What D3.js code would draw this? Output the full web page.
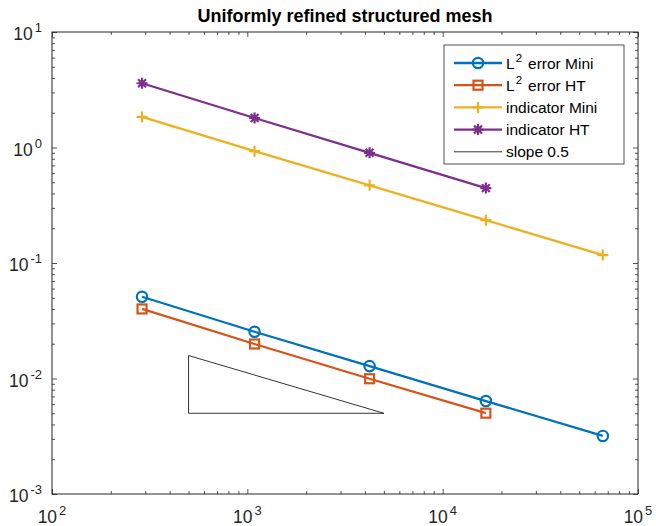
<!DOCTYPE html>
<html>
<head>
<meta charset="utf-8">
<script src="https://cdn.jsdelivr.net/npm/d3@7"></script>
<style>
  body { margin: 0; background: #fff; }
  svg { font-family: "Liberation Sans", Arial, sans-serif; }
</style>
</head>
<body>
<svg id="chart"></svg>
<script>
'use strict'

const width = 656,
      height = 526

// mesh sizes (dofs) and errors
const dofs = [289, 1089, 4225, 16641, 66049]
const l2Mini = [0.0510, 0.0254, 0.0128, 0.00638, 0.00318]
const l2HT = [0.0400, 0.0199, 0.00995, 0.00501]
const indMini = [1.84, 0.93, 0.47, 0.235, 0.117]
const indHT = [3.6, 1.8, 0.9, 0.445]
// reference triangle, slope 0.5
const slopeX = [500, 500, 5000, 500]
const slopeY = [0.005 * Math.sqrt(10), 0.005, 0.005, 0.005 * Math.sqrt(10)]

const xExp = [2, 3, 4, 5]
const yExp = [-3, -2, -1, 0, 1]

const series = [
  { name: ["L", "2", "error Mini"], x: dofs, y: l2Mini, color: "#0072BD", marker: "circle" },
  { name: ["L", "2", "error HT"], x: dofs.slice(0, 4), y: l2HT, color: "#D95319", marker: "square" },
  { name: ["indicator Mini"], x: dofs, y: indMini, color: "#EDB120", marker: "plus" },
  { name: ["indicator HT"], x: dofs.slice(0, 4), y: indHT, color: "#7E2F8E", marker: "star" }
]

const margin = { top: 32, right: 18, bottom: 32, left: 52 }
const x0 = margin.left, x1 = width - margin.right,
      y0 = margin.top, y1 = height - margin.bottom

const x = d3.scaleLog().domain([1e2, 1e5]).range([x0, x1])
const y = d3.scaleLog().domain([1e-3, 1e1]).range([y1, y0])

const svg = d3.select("#chart")
  .attr("width", width)
  .attr("height", height)

const axisColor = "#262626"

// minor tick values for log axes
function minors(lo, hi) {
  const out = []
  for (let e = lo; e < hi; e++)
    for (let k = 2; k <= 9; k++) out.push(k * Math.pow(10, e))
  return out
}
const xMajor = xExp.map(e => Math.pow(10, e))
const yMajor = yExp.map(e => Math.pow(10, e))
const xMinor = minors(2, 5)
const yMinor = minors(-3, 1)

const gAxes = svg.append("g").attr("class", "axes")

function addAxis(axisFn, scale, vals, size, transform) {
  gAxes.append("g")
    .attr("transform", transform)
    .call(axisFn(scale).tickValues(vals).tickSize(size).tickFormat(""))
    .call(g => g.select(".domain").remove())
    .call(g => g.selectAll("line").attr("stroke", axisColor).attr("stroke-width", 0.8))
}
// inward ticks on all four sides
addAxis(d3.axisBottom, x, xMajor, -5, `translate(0,${y1})`)
addAxis(d3.axisBottom, x, xMinor, -3, `translate(0,${y1})`)
addAxis(d3.axisTop, x, xMajor, -5, `translate(0,${y0})`)
addAxis(d3.axisTop, x, xMinor, -3, `translate(0,${y0})`)
addAxis(d3.axisLeft, y, yMajor, -5, `translate(${x0},0)`)
addAxis(d3.axisLeft, y, yMinor, -3, `translate(${x0},0)`)
addAxis(d3.axisRight, y, yMajor, -5, `translate(${x1},0)`)
addAxis(d3.axisRight, y, yMinor, -3, `translate(${x1},0)`)

gAxes.append("rect")
  .attr("x", x0).attr("y", y0)
  .attr("width", x1 - x0).attr("height", y1 - y0)
  .attr("fill", "none")
  .attr("stroke", axisColor)
  .attr("stroke-width", 1)

// tick labels, 10 with superscript exponent
gAxes.selectAll(".xlabel")
  .data(xExp)
  .enter().append("text")
    .attr("class", "xlabel")
    .attr("x", d => x(Math.pow(10, d)))
    .attr("y", y1 + 29)
    .attr("text-anchor", "middle")
    .attr("fill", axisColor)
    .style("font-size", "17.5px")
    .each(function(d) {
      const t = d3.select(this)
      t.append("tspan").text("10")
      t.append("tspan").attr("dy", -8).attr("dx", 2).style("font-size", "13px").text(d)
    })

gAxes.selectAll(".ylabel")
  .data(yExp)
  .enter().append("text")
    .attr("class", "ylabel")
    .attr("x", x0 - 10)
    .attr("y", d => y(Math.pow(10, d)) + 8)
    .attr("text-anchor", "end")
    .attr("fill", axisColor)
    .style("font-size", "17.5px")
    .each(function(d) {
      const t = d3.select(this)
      t.append("tspan").text("10")
      t.append("tspan").attr("dy", -8).attr("dx", 2).style("font-size", "13px").text(d < 0 ? "-" + (-d) : d)
    })

// title
svg.append("text")
  .attr("x", (x0 + x1) / 2)
  .attr("y", 22)
  .attr("text-anchor", "middle")
  .style("font-size", "18px")
  .style("font-weight", "bold")
  .attr("fill", "#000")
  .text("Uniformly refined structured mesh")

// markers
function drawMarker(g, type, color) {
  if (type === "circle") {
    g.append("circle").attr("r", 5.2).attr("fill", "none")
      .attr("stroke", color).attr("stroke-width", 2.2)
  } else if (type === "square") {
    g.append("rect").attr("x", -4.5).attr("y", -4.5).attr("width", 9).attr("height", 9)
      .attr("fill", "none").attr("stroke", color).attr("stroke-width", 2.2)
  } else if (type === "plus") {
    g.append("path").attr("d", "M-5.5,0H5.5M0,-5.5V5.5")
      .attr("stroke", color).attr("stroke-width", 2.2)
  } else if (type === "star") {
    const r = 5.5, q = r * 0.72
    g.append("path").attr("d", `M${-r},0H${r}M0,${-r}V${r}M${-q},${-q}L${q},${q}M${-q},${q}L${q},${-q}`)
      .attr("stroke", color).attr("stroke-width", 2.2)
  }
}

const line = d3.line()
  .x(d => x(d[0]))
  .y(d => y(d[1]))

const gData = svg.append("g").attr("class", "data")

series.forEach(s => {
  const pts = s.x.map((v, i) => [v, s.y[i]])
  gData.append("path")
    .datum(pts)
    .attr("d", line)
    .attr("fill", "none")
    .attr("stroke", s.color)
    .attr("stroke-width", 2.3)
  gData.selectAll(null)
    .data(pts)
    .enter().append("g")
      .attr("transform", d => `translate(${x(d[0])},${y(d[1])})`)
      .each(function() { drawMarker(d3.select(this), s.marker, s.color) })
})

// slope triangle
gData.append("path")
  .datum(slopeX.map((v, i) => [v, slopeY[i]]))
  .attr("d", line)
  .attr("fill", "none")
  .attr("stroke", "#000")
  .attr("stroke-width", 0.8)

// legend
const legend = svg.append("g").attr("class", "legend")
legend.append("rect")
  .attr("x", 444).attr("y", 45)
  .attr("width", 180).attr("height", 119)
  .attr("fill", "#fff")
  .attr("stroke", axisColor)
  .attr("stroke-width", 0.8)

const legendItems = series.concat([{ name: ["slope 0.5"], color: "#000", marker: null }])
legendItems.forEach((s, i) => {
  const row = legend.append("g").attr("transform", `translate(0,${63 + i * 22.2})`)
  row.append("line")
    .attr("x1", 454).attr("x2", 502)
    .attr("stroke", s.color)
    .attr("stroke-width", s.marker ? 2.3 : 0.8)
  if (s.marker) {
    drawMarker(row.append("g").attr("transform", "translate(478,0)"), s.marker, s.color)
  }
  const t = row.append("text")
    .attr("x", 506).attr("y", 5.5)
    .style("font-size", "15.5px")
    .attr("fill", "#000")
  if (s.name.length === 3) {
    t.append("tspan").text(s.name[0])
    t.append("tspan").attr("dy", -7).attr("dx", 1).style("font-size", "11.5px").text(s.name[1])
    t.append("tspan").attr("dy", 7).attr("dx", 6).text(s.name[2])
  } else {
    t.text(s.name[0])
  }
})
</script>
</body>
</html>
